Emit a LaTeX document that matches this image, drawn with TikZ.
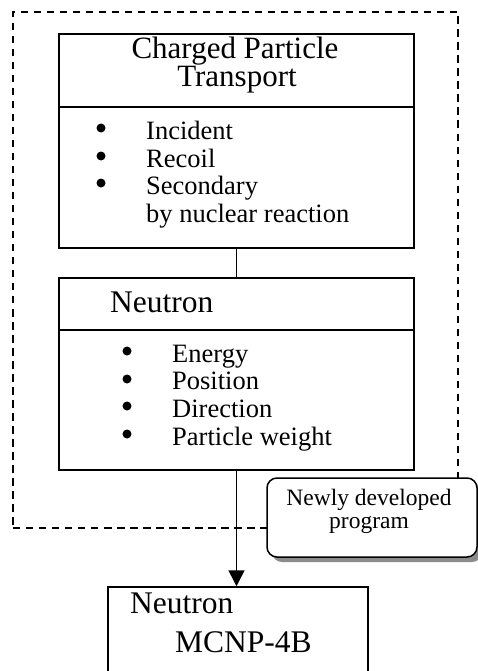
\documentclass[tikz,border=0pt]{standalone}
\usepackage{fontspec}
\setmainfont{Liberation Serif}
\usetikzlibrary{arrows.meta,shadows}
\begin{document}
\begin{tikzpicture}[x=1bp,y=-1bp,
  box/.style={draw,line width=1.5bp,rectangle,inner sep=0pt},
  ttl/.style={inner sep=0pt,anchor=base,text height=0.68em,text depth=0.2em,font=\fontsize{31bp}{31bp}\selectfont},
  ttlw/.style={inner sep=0pt,anchor=base west,font=\fontsize{31.5bp}{31.5bp}\selectfont},
  itm/.style={inner sep=0pt,anchor=base west,font=\fontsize{26.5bp}{26.5bp}\selectfont},
  bul/.style={circle,fill=black,inner sep=0pt,minimum size=9bp},
  note/.style={inner sep=0pt,anchor=base,font=\fontsize{23.5bp}{23.5bp}\selectfont},
  callout/.style={draw,line width=1.5bp,fill=white,rounded corners=10bp,
    drop shadow={shadow xshift=5bp,shadow yshift=-5bp,fill=black!45,opacity=1}},
  frame/.style={draw,line width=1.4bp,dash pattern=on 7.5bp off 5.5bp}]
\useasboundingbox (0,0) rectangle (478,671);
\clip (0,0) rectangle (478,671);
\fill[white] (0,0) rectangle (478,671);
% dashed frame
\node[frame,minimum width=445bp,minimum height=516bp,inner sep=0pt] (frm) at (235.5,270) {};
% top box
\node[box,minimum width=355bp,minimum height=214bp] (cpt) at (236.5,141) {};
\coordinate (cptd) at (0,107);
\draw[line width=1.5bp] (cpt.west |- cptd) -- (cpt.east |- cptd);
\node[ttl] (t1) at (235,58.5) {Charged Particle};
\node[ttl] (t2) at (237,86.5) {Transport};
\node[bul] (b1) at (101,128) {};
\node[bul] (b2) at (101,156) {};
\node[bul] (b3) at (101,183) {};
\node[itm] (i1) at (146,139) {Incident};
\node[itm] (i2) at (146,167) {Recoil};
\node[itm] (i3) at (146,194) {Secondary};
\node[itm] (i4) at (146,222) {by nuclear reaction};
% neutron box
\node[box,minimum width=355bp,minimum height=192bp] (neu) at (236.5,374) {};
\coordinate (neud) at (0,330);
\draw[line width=1.5bp] (neu.west |- neud) -- (neu.east |- neud);
\node[ttlw] (n1) at (110,312) {Neutron};
\node[bul] (c1) at (127,351) {};
\node[bul] (c2) at (127,379) {};
\node[bul] (c3) at (127,406) {};
\node[bul] (c4) at (127,434) {};
\node[itm] (j1) at (172,362) {Energy};
\node[itm] (j2) at (172,389) {Position};
\node[itm] (j3) at (172,417) {Direction};
\node[itm] (j4) at (172,445) {Particle weight};
% bottom box
\node[box,minimum width=260bp,minimum height=113bp] (mcnp) at (238,643.5) {};
\node[ttlw] (m1) at (130,613) {Neutron};
\node[ttlw] (m2) at (175,652) {MCNP-4B};
% connectors
\draw[line width=1.5bp] (cpt.south) -- (neu.north);
\draw[line width=1.5bp,-{Triangle[width=16bp,length=16bp]}] (neu.south) -- (neu.south |- mcnp.north);
% callout
\node[callout,minimum width=210bp,minimum height=79bp,inner sep=0pt] (cl) at (372,517.5) {};
\node[note] (k1) at (369,505) {Newly developed};
\node[note] (k2) at (369,528) {program};
\end{tikzpicture}
\end{document}
